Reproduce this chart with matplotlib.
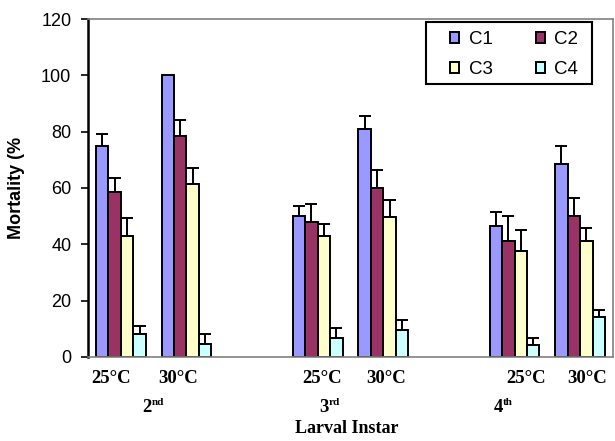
import numpy as np
from matplotlib import pyplot as plt
from matplotlib.patches import Rectangle
from matplotlib.transforms import blended_transform_factory

# category slots, 2 and 5 are the empty gaps between instars
pos = [0, 1, 3, 4, 6, 7]
series = ['C1', 'C2', 'C3', 'C4']
c1 = [75, 100, 50, 81, 46.5, 68.5]
c1_err = [4.2, 0, 3.6, 4.4, 5, 6.5]
c2 = [58.5, 78.5, 47.8, 60, 41.3, 50]
c2_err = [5, 5.7, 6.5, 6.4, 8.8, 6.6]
c3 = [43, 61.5, 42.8, 49.8, 37.7, 41.3]
c3_err = [6.2, 5.5, 4.4, 5.9, 7.3, 4.4]
c4 = [8.2, 4.6, 6.6, 9.5, 4.3, 14.3]
c4_err = [2.8, 3.6, 3.7, 3.6, 2.3, 2.4]
temp_labels = ['25\u00b0C', '30\u00b0C', '25\u00b0C', '30\u00b0C', '25\u00b0C', '30\u00b0C']
temp_x = [-0.15, 0.87, 3.06, 4.04, 6.17, 7.11]
instar_num = ['2', '3', '4']
instar_sup = ['nd', 'rd', 'th']
instar_x = [0.47, 3.16, 5.82]

colors = ['#9999FF', '#993366', '#FFFFCC', '#CCFFFF']
vals = [c1, c2, c3, c4]
errs = [c1_err, c2_err, c3_err, c4_err]

fig = plt.figure(figsize=(6.15, 4.41), dpi=100)
ax = fig.add_axes([0.1431, 0.1905, 0.8536, 0.7664])

w = 0.19
x = np.array(pos, dtype=float)
bars = []
for i in range(4):
    xs = x + (i - 1.5) * w
    b = ax.bar(xs, vals[i], width=w, color=colors[i], edgecolor='black',
               linewidth=1.4, label=series[i], zorder=2)
    bars.append(b)
    ax.errorbar(xs, vals[i], yerr=[np.zeros(len(errs[i])), errs[i]], fmt='none',
                ecolor='black', elinewidth=1.4, capsize=4, capthick=1.4, zorder=3)

ax.set_xlim(-0.5, 7.5)
ax.set_ylim(0, 120)
ax.set_yticks(range(0, 121, 20))
ax.set_xticks([])
ax.tick_params(axis='y', length=5, width=1.2, pad=7, labelsize=13)
for lab in ax.get_yticklabels():
    lab.set_fontfamily('Liberation Sans')

ax.spines['left'].set_linewidth(1.8)
ax.spines['left'].set_color('black')
for s in ['top', 'right', 'bottom']:
    ax.spines[s].set_color('#808080')
    ax.spines[s].set_linewidth(1.2)

ax.set_ylabel('Mortality (%', fontfamily='Liberation Sans', fontweight='bold', fontsize=13)
ax.yaxis.set_label_coords(-0.12, 0.5)

trans = blended_transform_factory(ax.transData, ax.transAxes)
for t, xx in zip(temp_labels, temp_x):
    ax.text(xx, -0.065, t, transform=trans, ha='center', va='center',
            fontfamily='Liberation Serif', fontweight='bold', fontsize=13.5)
for n, s, xx in zip(instar_num, instar_sup, instar_x):
    ax.text(xx, -0.148, n, transform=trans, ha='right', va='center',
            fontfamily='Liberation Serif', fontweight='bold', fontsize=13.5)
    ax.text(xx, -0.136, s, transform=trans, ha='left', va='center',
            fontfamily='Liberation Serif', fontweight='bold', fontsize=8)
ax.text(0.493, -0.212, 'Larval Instar', transform=ax.transAxes, ha='center', va='center',
        fontfamily='Liberation Serif', fontweight='bold', fontsize=13)

# legend: rows C1 C2 / C3 C4, frame drawn by hand
order = [0, 2, 1, 3]
leg = ax.legend([bars[k] for k in order], [series[k] for k in order],
                loc='upper left', bbox_to_anchor=(0.6895, 0.965), ncol=2,
                prop={'family': 'Liberation Sans', 'size': 13.5},
                handlelength=0.5, handleheight=0.5, handletextpad=0.5,
                columnspacing=2.3, labelspacing=0.7, borderpad=0,
                borderaxespad=0, frameon=False)
ax.add_patch(Rectangle((0.644, 0.808), 0.316, 0.183, transform=ax.transAxes,
                       facecolor='white', edgecolor='black', linewidth=1.5, zorder=4))
leg.set_zorder(5)

plt.savefig('out.png', dpi=100)
